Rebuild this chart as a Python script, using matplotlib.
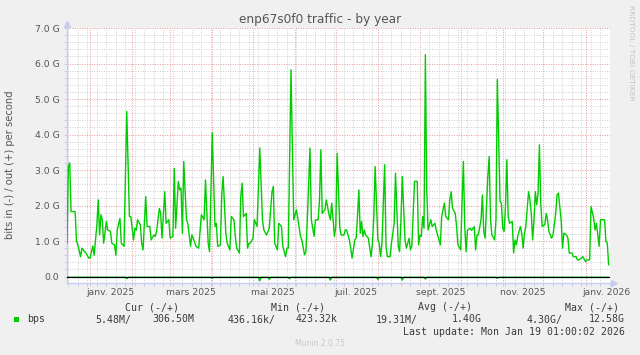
import matplotlib
matplotlib.use('Agg')
import matplotlib.pyplot as plt
import matplotlib.dates as mdates
from matplotlib.patches import Rectangle
from matplotlib.ticker import MultipleLocator, FuncFormatter, NullFormatter
import pandas as pd

W, H = 640, 355

start = pd.Timestamp('2024-12-15 01:00:02')
end = pd.Timestamp('2026-01-19 01:00:02')

# out (+) traffic, days since start -> Gbit/s
out_day = [0, 1, 2, 3, 6, 7, 8, 10, 11, 13,
           14, 16, 17, 19, 20, 22, 23, 24, 25, 26,
           27, 29, 30, 32, 33, 35, 36, 37, 39, 40,
           42, 44, 46, 47, 49, 50, 51, 52, 54, 55,
           56, 58, 59, 61, 62, 64, 65, 66, 68, 69,
           70, 72, 73, 75, 76, 78, 79, 80, 82, 83,
           84, 85, 86, 88, 89, 91, 92, 93, 95, 97,
           99, 101, 102, 104, 105, 107, 109, 110, 111, 113,
           114, 115, 117, 118, 120, 121, 123, 124, 125, 127,
           128, 129, 130, 132, 133, 134, 135, 137, 138, 140,
           141, 142, 144, 145, 147, 148, 149, 151, 152, 153,
           155, 156, 158, 159, 161, 162, 163, 165, 167, 169,
           170, 172, 173, 175, 176, 177, 179, 180, 182, 183,
           185, 186, 187, 188, 190, 191, 193, 194, 195, 197,
           198, 199, 201, 202, 204, 205, 206, 208, 209, 210,
           212, 213, 214, 215, 216, 217, 218, 219, 220, 222,
           223, 224, 225, 226, 227, 229, 230, 231, 232, 234,
           235, 236, 238, 239, 241, 242, 244, 245, 246, 247,
           249, 250, 252, 253, 254, 256, 258, 259, 260, 261,
           262, 263, 264, 265, 266, 268, 269, 271, 272, 274,
           275, 276, 278, 279, 281, 282, 283, 284, 286, 287,
           288, 290, 291, 292, 293, 294, 295, 297, 298, 300,
           301, 302, 303, 305, 306, 307, 308, 310, 311, 312,
           313, 315, 316, 317, 319, 320, 321, 322, 323, 324,
           325, 326, 328, 329, 330, 331, 332, 334, 335, 336,
           337, 338, 340, 341, 342, 343, 344, 345, 346, 347,
           348, 349, 350, 352, 353, 354, 355, 357, 358, 360,
           361, 362, 364, 365, 366, 368, 369, 370, 372, 373,
           375, 376, 377, 379, 380, 382, 383, 385, 386, 388,
           389, 390, 392, 393, 395, 396, 397, 398, 399]
out_gbps = [0.94, 3.10, 3.20, 1.83, 1.83, 0.99, 0.89, 0.56, 0.80, 0.70,
            0.66, 0.52, 0.52, 0.86, 0.60, 1.46, 2.16, 1.17, 1.74, 1.60,
            0.94, 1.55, 1.31, 1.27, 0.94, 0.89, 0.60, 1.31, 1.64, 0.94,
            0.85, 4.65, 1.69, 1.69, 1.03, 1.36, 1.31, 1.60, 1.46, 0.94,
            0.75, 2.25, 1.41, 1.41, 1.03, 1.17, 1.13, 1.27, 1.92, 1.78,
            1.08, 2.39, 1.50, 1.60, 1.08, 1.13, 3.05, 1.36, 2.68, 2.44,
            2.49, 1.22, 3.24, 1.60, 1.50, 0.85, 1.17, 1.08, 0.85, 0.80,
            1.74, 1.60, 2.72, 0.94, 0.70, 4.05, 1.41, 1.50, 0.85, 0.89,
            2.30, 2.82, 1.22, 0.94, 0.75, 1.69, 1.60, 1.13, 0.80, 0.66,
            2.25, 2.63, 1.69, 1.78, 0.80, 0.94, 0.94, 1.08, 1.60, 1.41,
            2.54, 3.62, 1.60, 1.31, 1.17, 1.27, 1.36, 2.39, 2.54, 0.94,
            0.75, 1.50, 1.41, 0.85, 0.56, 0.80, 0.80, 5.82, 1.60, 1.88,
            1.64, 1.13, 1.03, 0.61, 0.70, 1.60, 3.62, 1.60, 1.13, 1.60,
            1.60, 2.16, 3.57, 1.78, 1.88, 2.16, 1.74, 1.60, 2.07, 1.13,
            1.41, 3.47, 1.36, 1.17, 1.17, 1.31, 1.31, 1.03, 0.80, 0.52,
            1.03, 1.08, 1.69, 2.44, 1.22, 1.55, 1.13, 1.31, 1.17, 1.08,
            0.80, 0.56, 0.94, 1.69, 3.10, 1.03, 0.94, 0.56, 0.94, 3.15,
            0.85, 0.56, 0.56, 0.94, 1.50, 2.91, 0.85, 0.70, 1.60, 2.82,
            1.03, 0.80, 1.08, 0.75, 0.85, 2.68, 2.68, 0.89, 1.17, 1.13,
            1.69, 1.36, 6.25, 2.44, 1.31, 1.60, 1.41, 1.50, 1.31, 1.03,
            0.89, 1.69, 2.07, 1.69, 1.60, 2.16, 2.39, 1.92, 1.78, 1.41,
            0.89, 0.75, 2.07, 3.24, 1.41, 0.70, 1.31, 1.36, 1.30, 1.41,
            0.75, 1.17, 1.17, 1.60, 2.30, 1.27, 1.08, 2.82, 3.38, 1.60,
            1.17, 1.03, 1.60, 5.55, 2.11, 2.07, 1.36, 1.27, 1.97, 3.29,
            1.69, 1.50, 1.55, 0.66, 1.03, 0.89, 1.13, 1.41, 1.22, 0.80,
            1.22, 1.41, 2.39, 2.16, 1.78, 1.03, 1.60, 2.39, 2.02, 2.35,
            3.71, 2.07, 1.41, 1.46, 1.78, 1.60, 1.27, 1.08, 1.17, 1.78,
            2.30, 2.35, 1.60, 0.80, 1.22, 1.17, 1.08, 0.66, 0.66, 0.56,
            0.56, 0.47, 0.47, 0.52, 0.56, 0.42, 0.47, 0.47, 1.97, 1.64,
            1.31, 1.50, 0.85, 1.60, 1.60, 1.60, 0.99, 0.94, 0.33]

# in (-) traffic, drawn below zero
in_day = [0, 43, 44, 45, 106, 107, 108, 141, 142, 143, 148, 149, 150,
          163, 164, 165, 193, 194, 195, 228, 229, 230, 246, 247, 248,
          263, 264, 265, 316, 317, 318, 399]
in_gbps = [-0.02, -0.02, -0.06, -0.02, -0.02, -0.05, -0.02, -0.02, -0.12, -0.02,
           -0.02, -0.08, -0.02, -0.02, -0.06, -0.02, -0.02, -0.10, -0.02, -0.02,
           -0.08, -0.02, -0.02, -0.10, -0.02, -0.02, -0.07, -0.02, -0.02, -0.05,
           -0.02, -0.02]

month_labels = ['janv. 2025', 'mars 2025', 'mai 2025', 'juil. 2025',
                'sept. 2025', 'nov. 2025', 'janv. 2026']
month_label_dates = ['2025-01-16', '2025-03-16', '2025-05-16', '2025-07-16',
                     '2025-09-16', '2025-11-16', '2026-01-16']

legend_head = ['Cur (-/+)', 'Min (-/+)', 'Avg (-/+)', 'Max (-/+)']
legend_vals = ['5.48M/', '306.50M', '436.16k/', '423.32k',
               '19.31M/', '1.40G', '4.30G/', '12.58G']
last_update = 'Last update: Mon Jan 19 01:00:02 2026'

AXIS_C = '#c8ccf0'
TXT_C = '#555555'
MONO = 'DejaVu Sans Mono'


def px(x, y):
    return x / W, 1 - y / H


fig = plt.figure(figsize=(W / 100, H / 100), dpi=100, facecolor='#f0f0f0')
ax = fig.add_axes([67 / W, 1 - 283.3 / H, (610 - 67) / W, (283.3 - 28) / H])
ax.set_facecolor('white')

out_dates = start + pd.to_timedelta(out_day, unit='D')
in_dates = start + pd.to_timedelta(in_day, unit='D')
ax.plot(out_dates, out_gbps, color='#00cc00', lw=1.0, zorder=3)
ax.plot(in_dates, in_gbps, color='#00cc00', lw=1.0, zorder=3)
ax.axhline(0, color='black', lw=0.9, zorder=4)

ax.set_xlim(start, end)
ax.set_ylim(-0.19, 7.0)

ax.yaxis.set_major_locator(MultipleLocator(1))
ax.yaxis.set_minor_locator(MultipleLocator(0.2))
ax.yaxis.set_major_formatter(FuncFormatter(lambda v, p: '0.0' if abs(v) < 1e-9 else f'{v:.1f} G'))
ax.xaxis.set_major_locator(mdates.MonthLocator())
ax.xaxis.set_minor_locator(mdates.WeekdayLocator(byweekday=mdates.MO))
ax.xaxis.set_major_formatter(NullFormatter())

dots = (0, (1, 1.5))
ax.grid(which='minor', color='#d0d0d0', ls=dots, lw=0.7)
ax.grid(which='major', color='#e39a9a', ls=dots, lw=0.7)
ax.set_axisbelow(True)

ax.tick_params(which='both', length=2, width=0.7, color=AXIS_C,
               labelsize=6.7, labelcolor=TXT_C, pad=3.5)
for s in ['top', 'right']:
    ax.spines[s].set_visible(False)
for s in ['left', 'bottom']:
    ax.spines[s].set_color(AXIS_C)
    ax.spines[s].set_linewidth(1.0)

# axis arrows
ax.plot([1.008], [0], marker='>', ms=4, color=AXIS_C, transform=ax.transAxes, clip_on=False)
ax.plot([0], [1.016], marker='^', ms=4, color=AXIS_C, transform=ax.transAxes, clip_on=False)

for lab, d in zip(month_labels, month_label_dates):
    ax.text(pd.Timestamp(d), -0.037, lab, transform=ax.get_xaxis_transform(),
            ha='center', va='center', fontsize=6.7, color=TXT_C)

fig.text(*px(320, 19), 'enp67s0f0 traffic - by year', ha='center', va='center',
         fontsize=8.7, color=TXT_C)
fig.text(*px(10, 165), 'bits in (-) / out (+) per second', rotation=90,
         ha='center', va='center', fontsize=7.2, color=TXT_C)
fig.text(*px(631, 5), 'RRDTOOL / TOBI OETIKER', rotation=-90, ha='center', va='top',
         fontsize=5.4, color='#c4c4c4')

# legend block
for lab, xr in zip(legend_head, [178.6, 325.3, 472, 619]):
    fig.text(*px(xr, 307), lab, ha='right', va='center', family=MONO, fontsize=7.1, color='#3a3a3a')
fig.patches.append(Rectangle(px(14, 322), 5 / W, 5 / H, transform=fig.transFigure,
                             facecolor='#00cc00', edgecolor='none'))
fig.text(*px(26.7, 319.5), 'bps', ha='left', va='center', family=MONO, fontsize=7.1, color='#3a3a3a')
for lab, xr in zip(legend_vals, [131.7, 194, 276, 338, 418, 481.7, 563, 625]):
    fig.text(*px(xr, 319.5), lab, ha='right', va='center', family=MONO, fontsize=7.1, color='#3a3a3a')
fig.text(*px(625, 331.7), last_update, ha='right', va='center', family=MONO,
         fontsize=7.1, color='#3a3a3a')
fig.text(*px(320, 344), 'Munin 2.0.75', ha='center', va='center', fontsize=5.5, color='#c8c8c8')

fig.savefig('out.png', dpi=100, facecolor=fig.get_facecolor())
